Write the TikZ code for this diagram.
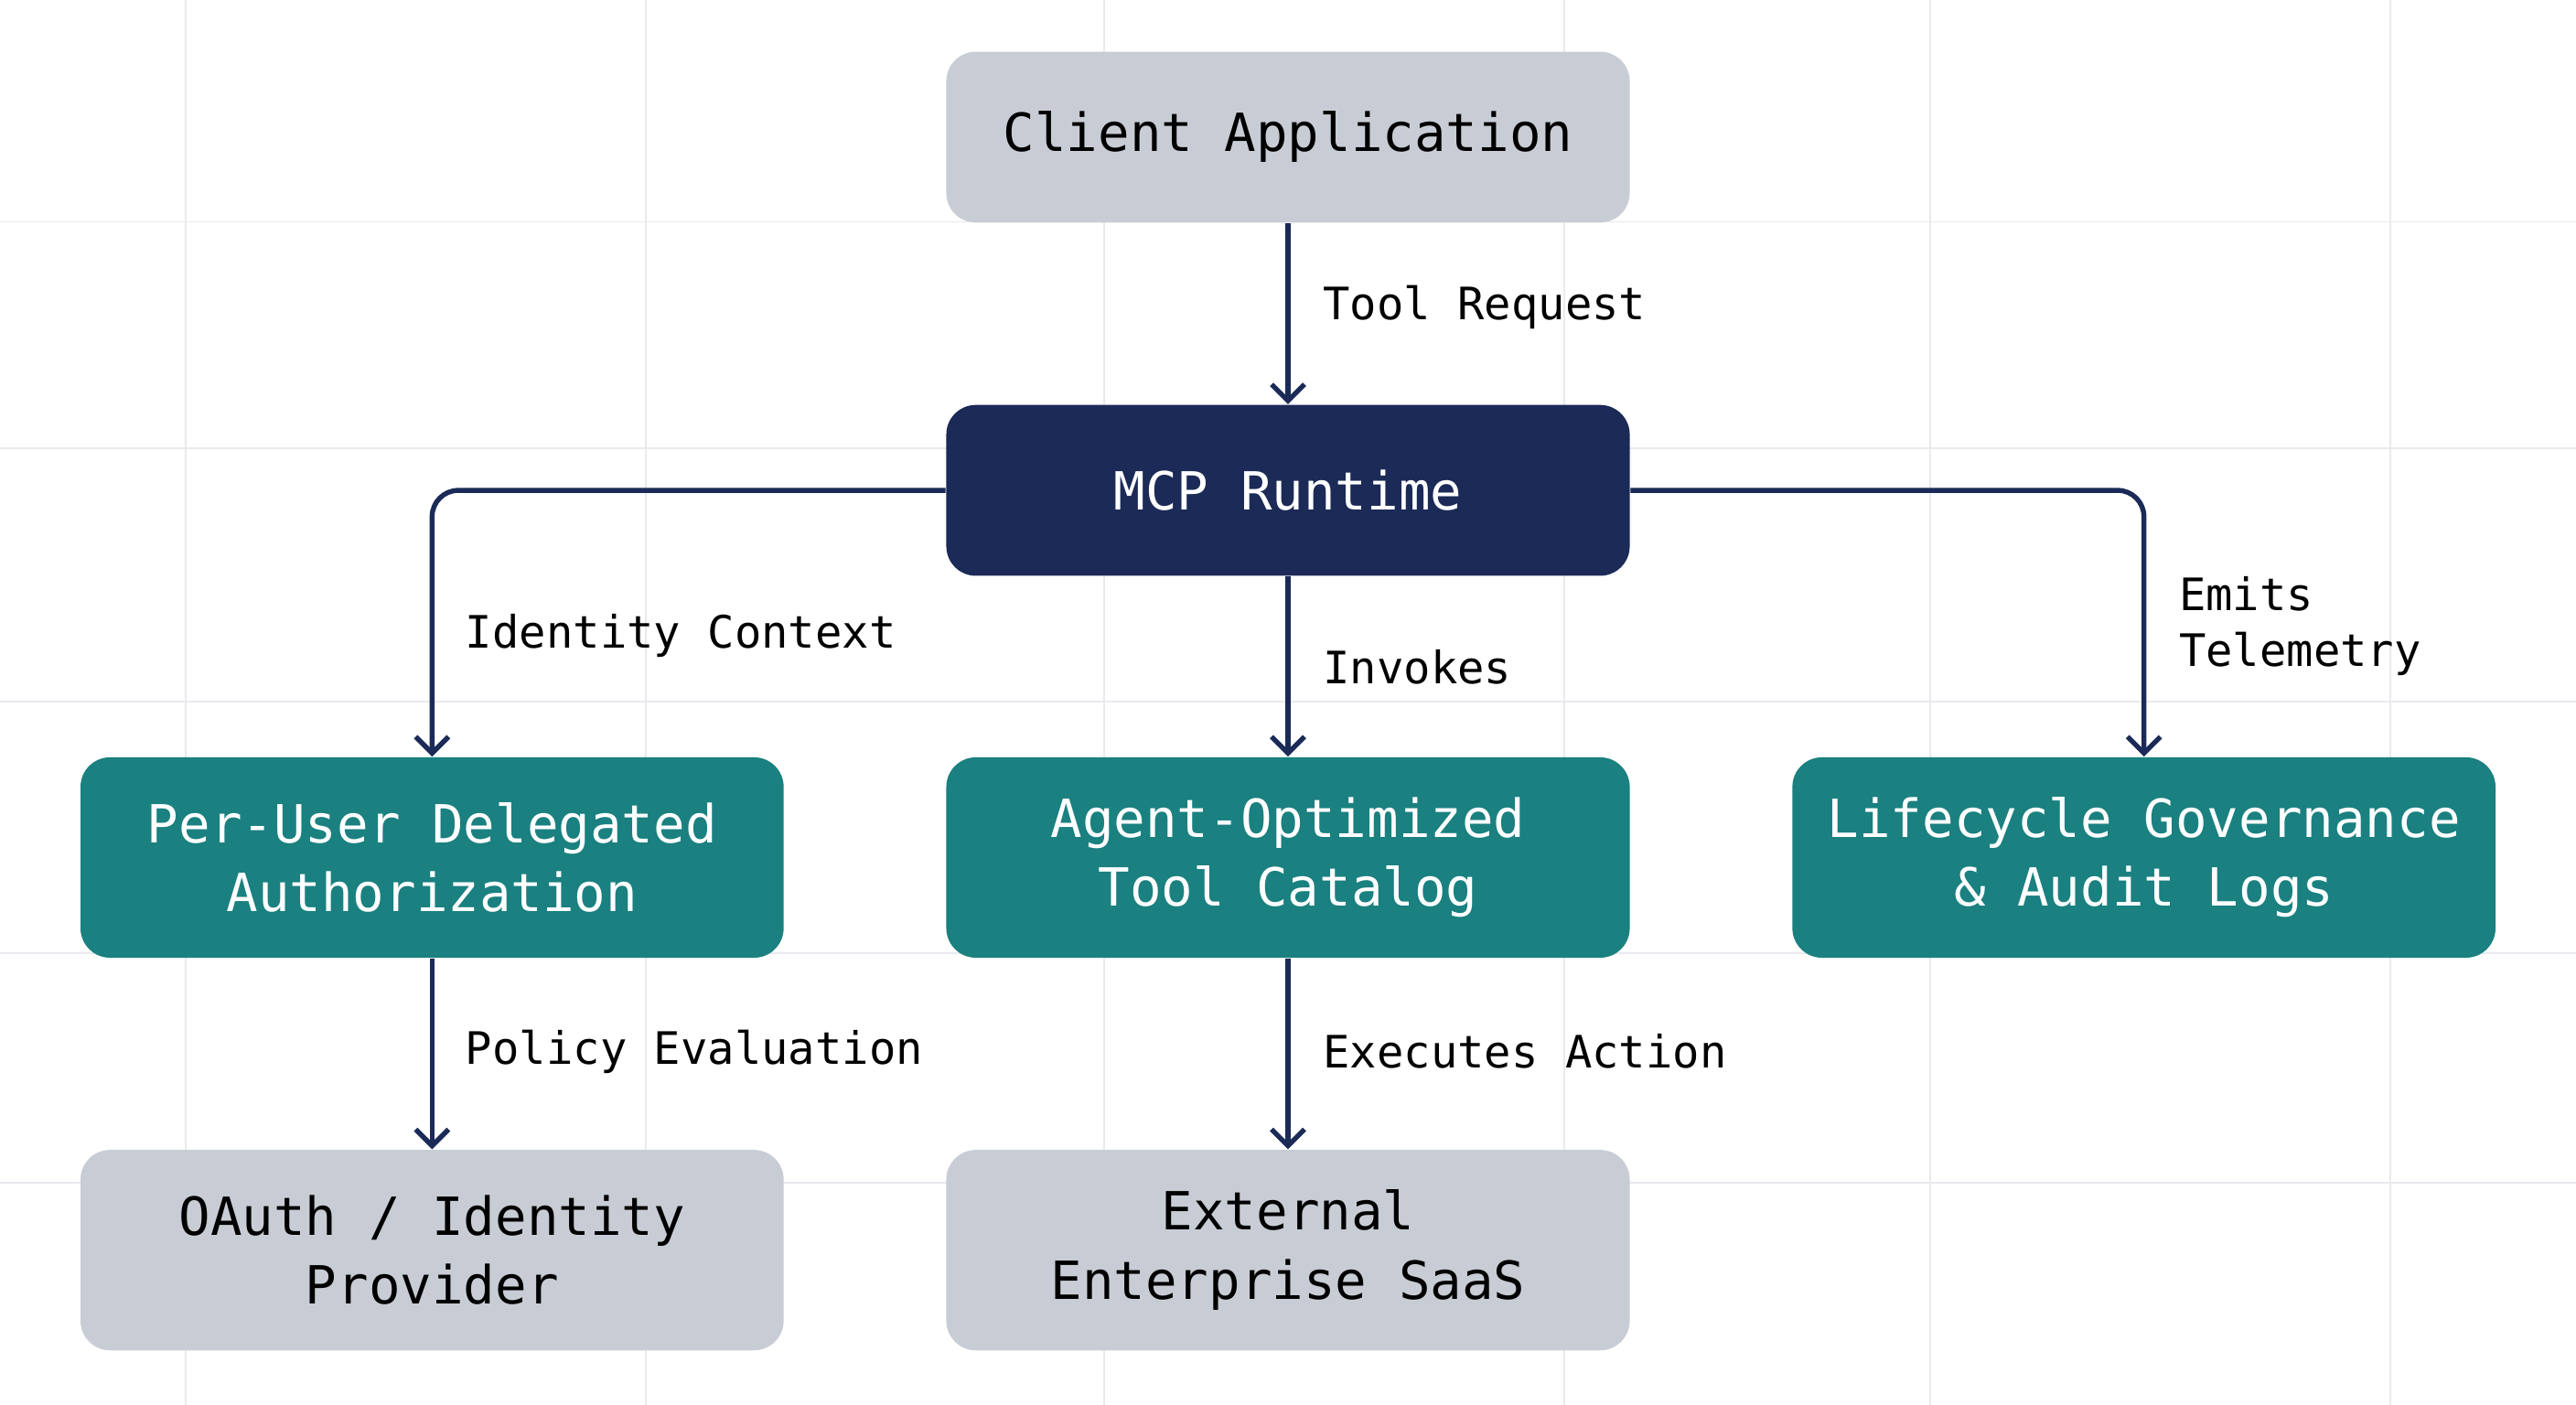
\documentclass[tikz,border=0pt]{standalone}
\usepackage{fontspec}
\setmonofont{DejaVu Sans Mono}
\usetikzlibrary{arrows.meta}
\definecolor{navy}{HTML}{1B2A57}
\definecolor{tealc}{HTML}{1A8080}
\definecolor{grayc}{HTML}{C8CDD5}
\definecolor{gridc}{HTML}{E8EAEE}
\tikzset{
  box/.style={rounded corners=9pt, minimum width=208pt, minimum height=52pt, align=center, font=\ttfamily\fontsize{16}{21}\selectfont, inner sep=0pt},
  wbox/.style={box, minimum width=214pt, minimum height=61pt},
  graybox/.style={fill=grayc, text=black},
  navybox/.style={fill=navy, text=white},
  tealbox/.style={fill=tealc, text=white},
  conn/.style={draw=navy, line width=1.5pt, rounded corners=8pt, -{Straight Barb[length=5pt,width=10pt,line width=1.5pt]}},
  lbl/.style={font=\ttfamily\fontsize{13.6}{17}\selectfont, anchor=west, align=left, text=black, inner sep=0pt}
}
\begin{document}
\begin{tikzpicture}[x=0.5pt,y=-0.5pt]
\useasboundingbox (0,0) rectangle (1568,855);
\fill[white] (0,0) rectangle (1568,855);
\foreach \yy in {135,273,427,580,720} \draw[gridc,line width=0.5pt] (0,\yy) -- (1568,\yy);
\foreach \xx in {113,393,672,952,1175,1455} \draw[gridc,line width=0.5pt] (\xx,0) -- (\xx,855);
\node[box,graybox] (client) at (784,83.5) {Client Application};
\node[box,navybox] (mcp) at (784,298.5) {MCP Runtime};
\node[wbox,tealbox] (auth) at (263,522) {Per-User Delegated\\Authorization};
\node[box,tealbox, minimum height=61pt] (cat) at (784,522) {Agent-Optimized\\Tool Catalog};
\node[wbox,tealbox] (life) at (1305,522) {Lifecycle Governance\\\& Audit Logs};
\node[wbox,graybox] (oauth) at (263,761) {OAuth / Identity\\Provider};
\node[box,graybox, minimum height=61pt] (ext) at (784,761) {External\\Enterprise SaaS};
\draw[conn] (client) -- (mcp);
\draw[conn] (mcp.west) -| (auth.north);
\draw[conn] (mcp.east) -| (life.north);
\draw[conn] (mcp) -- (cat);
\draw[conn] (auth) -- (oauth);
\draw[conn] (cat) -- (ext);
\node[lbl] (l1) at (805,187) {Tool Request};
\node[lbl] (l2) at (283,387) {Identity Context};
\node[lbl] (l3) at (805,406) {Invokes};
\node[lbl] (l4) at (1326,381) {Emits\\Telemetry};
\node[lbl] (l5) at (283,640) {Policy Evaluation};
\node[lbl] (l6) at (805,640) {Executes Action};
\end{tikzpicture}
\end{document}
